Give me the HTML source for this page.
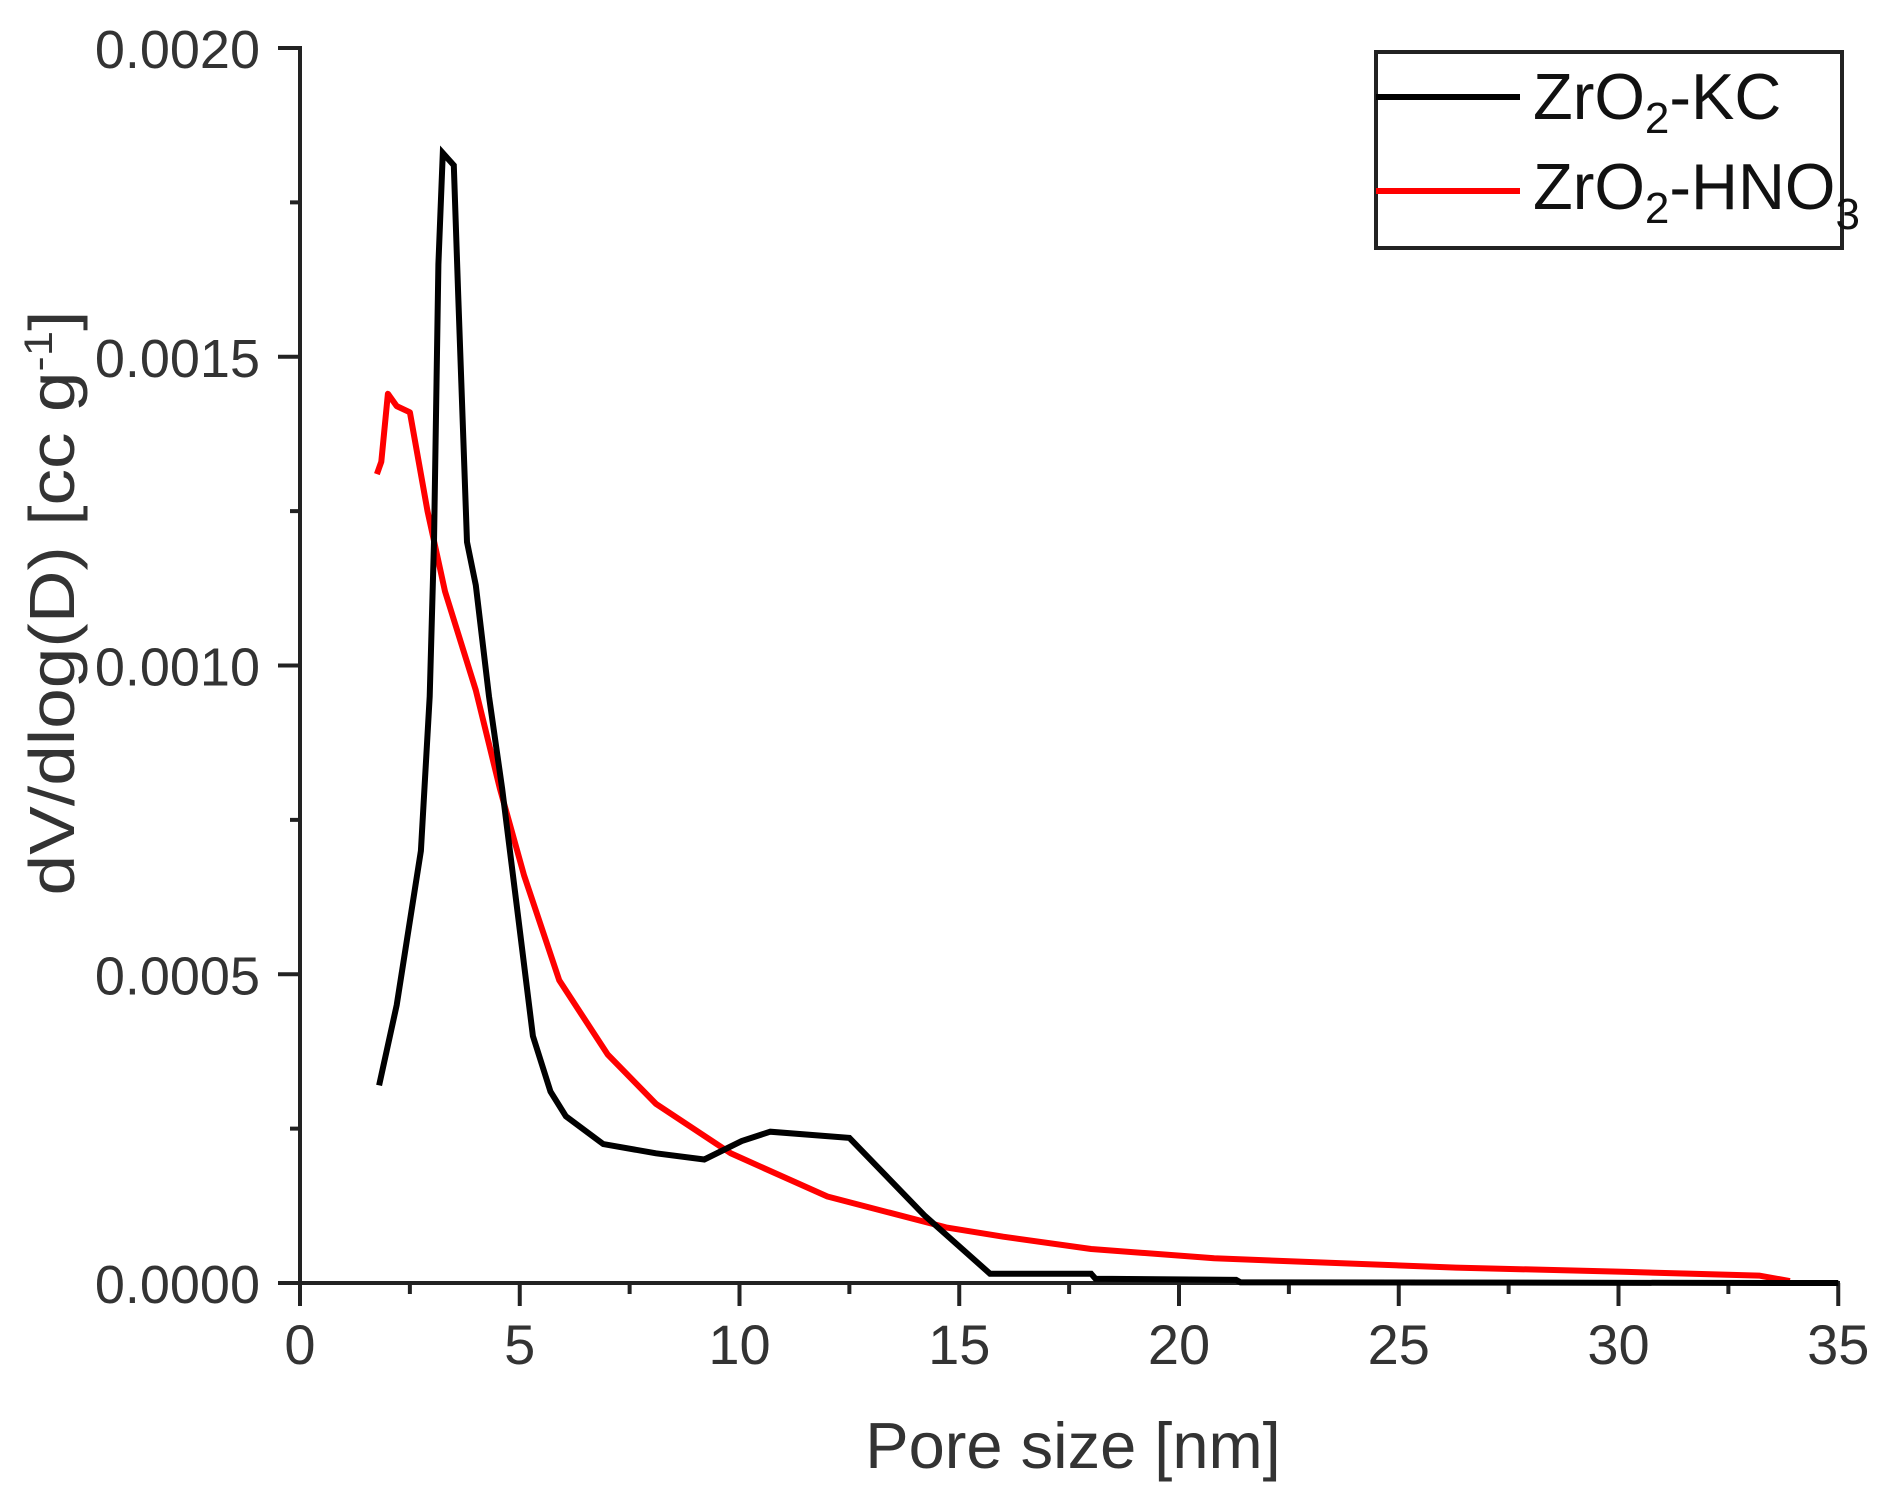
<!DOCTYPE html>
<html><head><meta charset="utf-8"><style>
html,body{margin:0;padding:0;background:#fff;}
svg{display:block;}
text{font-family:"Liberation Sans",Arial,sans-serif;fill:#333;}
</style></head><body>
<svg id="s" width="1902" height="1497" viewBox="0 0 1902 1497" xmlns="http://www.w3.org/2000/svg">
<g stroke="#222" stroke-width="4" fill="none">
<line x1="300" y1="46" x2="300" y2="1285"/>
<line x1="298" y1="1283" x2="1840" y2="1283"/>
</g>
<g id="ticks" stroke="#222" stroke-width="4"></g>
<g id="labels" font-size="54" text-anchor="end"></g>
<g id="xlabels" font-size="56" text-anchor="middle"></g>
<polyline id="red" fill="none" stroke="#ff0000" stroke-width="6" stroke-linejoin="round"/>
<polyline id="blk" fill="none" stroke="#000" stroke-width="6" stroke-linejoin="miter"/>
<text x="1073" y="1468" font-size="65" text-anchor="middle">Pore size [nm]</text>
<text transform="translate(74,603) rotate(-90)" font-size="64" text-anchor="middle" textLength="585" lengthAdjust="spacingAndGlyphs">dV/dlog(D) [cc g<tspan dy="-22" font-size="40">-1</tspan><tspan dy="22">]</tspan></text>
<rect x="1376" y="52" width="466" height="196" fill="#fff" stroke="#222" stroke-width="4"/>
<line x1="1376" y1="97" x2="1520" y2="97" stroke="#000" stroke-width="6"/>
<line x1="1376" y1="191" x2="1520" y2="191" stroke="#ff0000" stroke-width="6"/>
<text x="1533" y="119" font-size="65" style="fill:#111">ZrO<tspan dy="14" font-size="44">2</tspan><tspan dy="-14">-KC</tspan></text>
<text x="1533" y="209" font-size="65" style="fill:#111">ZrO<tspan dy="14" font-size="44">2</tspan><tspan dy="-14">-HNO</tspan><tspan dy="20" font-size="44">3</tspan></text>
</svg>
<script>
var X=function(x){return 300+43.95*x},Y=function(v){return 1283-617500*v};
var t=document.getElementById('ticks'),L=document.getElementById('labels'),XL=document.getElementById('xlabels'),ns='http://www.w3.org/2000/svg';
function ln(a,b,c,d){var e=document.createElementNS(ns,'line');e.setAttribute('x1',a);e.setAttribute('y1',b);e.setAttribute('x2',c);e.setAttribute('y2',d);t.appendChild(e);}
function tx(p,x,y,s){var e=document.createElementNS(ns,'text');e.setAttribute('x',x);e.setAttribute('y',y);e.textContent=s;p.appendChild(e);}
for(var i=0;i<=8;i++){var v=i*0.00025,y=Y(v);if(i%2==0){ln(278,y,300,y);tx(L,260,y+20,v.toFixed(4));}else ln(290,y,300,y);}
for(var i=0;i<=14;i++){var x=X(i*2.5);if(i%2==0){ln(x,1283,x,1306);tx(XL,x,1364,String(i*2.5));}else ln(x,1283,x,1294);}
var blk=[[1.8,0.00032],[2.2,0.00045],[2.75,0.0007],[2.95,0.00095],[3.05,0.0012],[3.15,0.00165],[3.25,0.00183],[3.5,0.00181],[3.6,0.0016],[3.8,0.0012],[4.0,0.00113],[4.3,0.00095],[4.6,0.0008],[4.95,0.0006],[5.3,0.0004],[5.7,0.00031],[6.05,0.00027],[6.9,0.000225],[8.1,0.00021],[9.2,0.0002],[10.05,0.00023],[10.7,0.000245],[12.5,0.000235],[14.2,0.00011],[15.7,0.000015],[18,0.000015],[18.1,0.000007],[21.3,0.000005],[21.4,0.000001],[35,0]];
var red=[[1.75,0.00131],[1.85,0.00133],[2.0,0.00144],[2.2,0.00142],[2.5,0.00141],[2.9,0.00125],[3.3,0.00112],[4.0,0.00096],[4.55,0.0008],[5.1,0.00066],[5.9,0.00049],[7.0,0.00037],[8.1,0.00029],[9.8,0.00021],[12,0.00014],[14.7,0.00009],[16,0.000075],[18,0.000055],[20.8,0.00004],[26.3,0.000025],[30.2,0.000018],[33.2,0.000012],[33.9,0.000003]];
function pts(a){return a.map(function(p){return X(p[0]).toFixed(1)+','+Y(p[1]).toFixed(1)}).join(' ')}
document.getElementById('blk').setAttribute('points',pts(blk));
document.getElementById('red').setAttribute('points',pts(red));
</script>
</body></html>
